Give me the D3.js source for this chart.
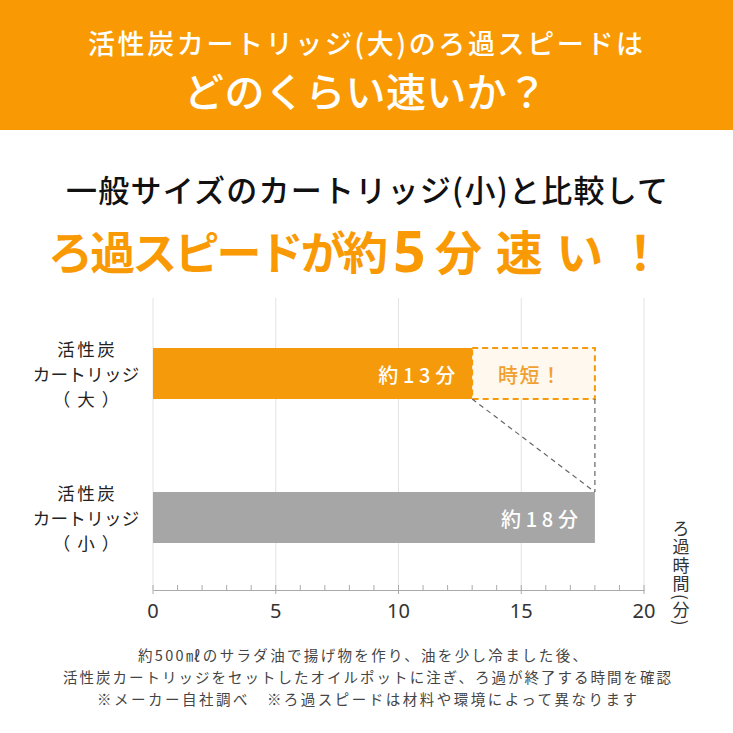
<!DOCTYPE html>
<html><head><meta charset="utf-8">
<script src="https://cdn.jsdelivr.net/npm/d3@7"></script>
<style>body{margin:0;background:#fff}svg{display:block}</style>
</head><body>
<svg id="c" width="733" height="733"></svg>
<script>
const categories = [["活性炭","カートリッジ","（大）"],["活性炭","カートリッジ","（小）"]];
const values = [13, 18];
const valueLabels = ["約13分","約18分"];
const xTicks = [0,5,10,15,20];
const titleLines = ["活性炭カートリッジ(大)のろ過スピードは","どのくらい速いか？"];
const subLine = "一般サイズのカートリッジ(小)と比較して";
const catchParts = ["ろ過スピードが約","5","分速い！"];
const footLines = ["約500㎖のサラダ油で揚げ物を作り、油を少し冷ました後、","活性炭カートリッジをセットしたオイルポットに注ぎ、ろ過が終了する時間を確認","※メーカー自社調べ　※ろ過スピードは材料や環境によって異なります"];

const font = "'Noto Sans CJK JP','Noto Sans',sans-serif";
const svg = d3.select("#c").style("font-family", font);
const orange = "#F99A05", barOrange = "#F59A0A", gray = "#A6A6A6";

function fitText(sel, x0, x1){
  sel.attr("x",x0).attr("text-anchor","start").attr("textLength",x1-x0).attr("lengthAdjust","spacing");
  return sel;
}

// banner
svg.append("rect").attr("x",0).attr("y",0).attr("width",733).attr("height",130).attr("fill",orange);
fitText(svg.append("text").attr("y",54).attr("fill","#fff").attr("font-size",27).attr("font-weight",500).text(titleLines[0]), 88, 643);
fitText(svg.append("text").attr("y",107).attr("fill","#fff").attr("font-size",40).attr("font-weight",500).text(titleLines[1]), 184, 547);

// subtitle
fitText(svg.append("text").attr("y",202).attr("fill","#111").attr("font-size",31).attr("font-weight",500).text(subLine), 66, 668);
fitText(svg.append("text").attr("y",270).attr("fill",orange).attr("font-size",45).attr("font-weight",700).text(catchParts[0]), 48, 388);
fitText(svg.append("text").attr("y",272).attr("fill",orange).attr("font-size",57).attr("font-weight",700)
  .attr("font-family","'Noto Sans',sans-serif").text(catchParts[1]), 393, 430);
fitText(svg.append("text").attr("y",270).attr("fill",orange).attr("font-size",47).attr("font-weight",700).text(catchParts[2]), 435, 664);

// chart
const x = d3.scaleLinear().domain([0,20]).range([153,644]);
const yTop = [348, 492], barH = 51;
const axisY = 590;

const g = svg.append("g");
g.selectAll("line.grid").data(xTicks).join("line")
  .attr("x1",d=>x(d)).attr("x2",d=>x(d)).attr("y1",298).attr("y2",axisY)
  .attr("stroke","#E3E3E3").attr("stroke-width",1);

const axis = d3.axisBottom(x).tickValues(d3.range(0,21,1)).tickSize(0).tickFormat("");
const ax = g.append("g").attr("transform",`translate(0,${axisY})`).call(axis);
ax.select(".domain").attr("stroke","#aaa");
ax.selectAll(".tick line").remove();
g.selectAll("line.minor").data(d3.range(0,21,1)).join("line")
  .attr("x1",d=>x(d)).attr("x2",d=>x(d))
  .attr("y1",axisY-5).attr("y2",d=> d%5===0 ? axisY+4 : axisY)
  .attr("stroke","#aaa").attr("stroke-width",1);
g.selectAll("text.tick").data(xTicks).join("text")
  .attr("x",d=>x(d)).attr("y",618).attr("text-anchor","middle").attr("fill","#333")
  .attr("font-size",20).attr("font-family","'Noto Sans',sans-serif").text(d=>d);

// shortened box
g.append("rect").attr("x",x(values[0])).attr("y",yTop[0]).attr("width",x(values[1])-x(values[0])).attr("height",barH)
  .attr("fill","#FEF8EF").attr("stroke",barOrange).attr("stroke-width",2).attr("stroke-dasharray","6,4");
fitText(g.append("text").attr("y",383).attr("fill","#F0A030").attr("font-size",20).attr("font-weight",500).text("時短！"), 498, 561);

// connectors
g.append("line").attr("x1",x(values[0])).attr("y1",yTop[0]+barH).attr("x2",x(values[1])).attr("y2",yTop[1])
  .attr("stroke","#666").attr("stroke-width",1.2).attr("stroke-dasharray","5,4");
g.append("line").attr("x1",x(values[1])).attr("y1",yTop[0]+barH).attr("x2",x(values[1])).attr("y2",yTop[1])
  .attr("stroke","#666").attr("stroke-width",1.2).attr("stroke-dasharray","5,4");

// bars
const colors = [barOrange, gray];
g.selectAll("rect.bar").data(values).join("rect")
  .attr("x",x(0)).attr("y",(d,i)=>yTop[i]).attr("width",d=>x(d)-x(0)).attr("height",barH).attr("fill",(d,i)=>colors[i]);
values.forEach((d,i)=>{
  fitText(g.append("text").attr("y",yTop[i]+35).attr("fill","#fff").attr("font-size",20).attr("font-weight",500).text(valueLabels[i]),
    x(d)-94, x(d)-17);
});

// category labels (centered, with letter spacing compensated)
const catLS = [2.5, 0.3, 7];
categories.forEach((lines,i)=>{
  const cy = yTop[i]+barH/2;
  lines.forEach((t,j)=>{
    g.append("text").attr("x",86 + catLS[j]/2).attr("y",cy+(j-1)*25+7).attr("text-anchor","middle")
      .style("letter-spacing",catLS[j]+"px").attr("fill","#222").attr("font-size",17.5).text(t);
  });
});

// axis title vertical
g.append("text").attr("transform","translate(681,520)").attr("fill","#333").attr("font-size",17)
  .style("writing-mode","vertical-rl").style("letter-spacing","1.5px").attr("text-anchor","start").text("ろ過時間(分)");

// footer
const footX = [[138,587],[63,671],[97,637]];
footLines.forEach((t,i)=>{
  fitText(svg.append("text").attr("y",661+i*22).attr("fill","#444").attr("font-size",14.5).text(t), footX[i][0], footX[i][1]);
});
</script>
</body></html>
